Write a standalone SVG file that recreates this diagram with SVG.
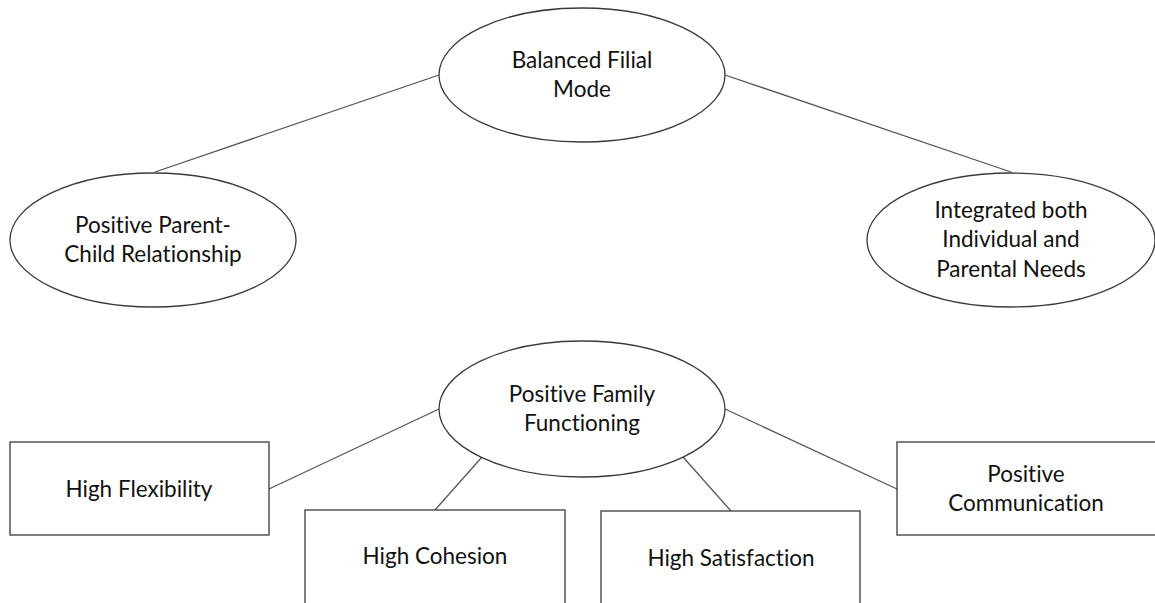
<svg xmlns="http://www.w3.org/2000/svg" width="1155" height="603" viewBox="0 0 1155 603">
<style>
.n{fill:#fff;stroke:#3a3a3a;stroke-width:1.3}
.c{stroke:#555;stroke-width:1.3;fill:none}
text{font-family:Lato,"Open Sans",sans-serif;font-size:22.5px;fill:#111;text-anchor:middle;font-variant-ligatures:none;font-feature-settings:"liga" 0}
</style>
<rect width="1155" height="603" fill="#fff"/>
<g id="connectors">
<line class="c" x1="439" y1="75" x2="155" y2="172"/>
<line class="c" x1="725" y1="75" x2="1011" y2="172"/>
<line class="c" x1="439" y1="409" x2="269" y2="489"/>
<line class="c" x1="725" y1="409" x2="897" y2="489"/>
<line class="c" x1="482" y1="457" x2="435" y2="510"/>
<line class="c" x1="683" y1="457" x2="731" y2="511"/>
</g>
<g id="balanced">
<ellipse class="n" cx="582" cy="75" rx="143" ry="67"/>
<text x="582" y="68">Balanced Filial</text>
<text x="582" y="97">Mode</text>
</g>
<g id="parentchild">
<ellipse class="n" cx="153" cy="240" rx="143" ry="67"/>
<text x="153" y="233">Positive Parent-</text>
<text x="153" y="262">Child Relationship</text>
</g>
<g id="integrated">
<ellipse class="n" cx="1011" cy="240" rx="144" ry="67"/>
<text x="1011" y="218">Integrated both</text>
<text x="1011" y="247">Individual and</text>
<text x="1011" y="277">Parental Needs</text>
</g>
<g id="family">
<ellipse class="n" cx="582" cy="409" rx="143" ry="68"/>
<text x="582" y="402">Positive Family</text>
<text x="582" y="431">Functioning</text>
</g>
<g id="flexibility">
<rect class="n" x="10" y="442" width="259" height="93"/>
<text x="139" y="497">High Flexibility</text>
</g>
<g id="cohesion">
<rect class="n" x="305" y="510" width="260" height="100"/>
<text x="435" y="564">High Cohesion</text>
</g>
<g id="satisfaction">
<rect class="n" x="601" y="511" width="259" height="100"/>
<text x="731" y="566">High Satisfaction</text>
</g>
<g id="communication">
<rect class="n" x="897" y="442" width="264" height="93"/>
<text x="1026" y="482">Positive</text>
<text x="1026" y="511">Communication</text>
</g>
</svg>
